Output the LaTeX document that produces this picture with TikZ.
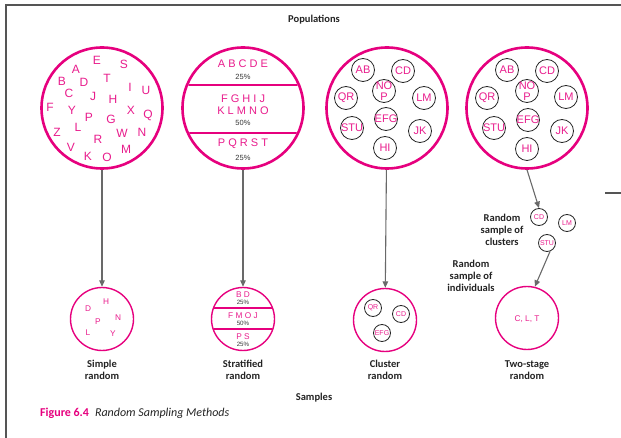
\documentclass[tikz,border=0pt]{standalone}
\usepackage{fontspec}
\setmainfont{Liberation Sans}
\newfontfamily\labfont{Carlito}
\usetikzlibrary{arrows.meta}

\definecolor{mag}{RGB}{230,0,126}
\definecolor{magtext}{RGB}{232,28,140}
\definecolor{arrowgray}{RGB}{105,105,105}
\definecolor{framegray}{RGB}{85,85,85}
\definecolor{pctgray}{RGB}{55,55,55}
\definecolor{labgray}{RGB}{35,35,35}

\tikzset{
  pop/.style={circle, draw=mag, line width=2.6pt, minimum size=121pt, inner sep=0pt},
  samp/.style={circle, draw=mag, line width=1.4pt, minimum size=63pt, inner sep=0pt},
  clu/.style={circle, draw=black!85, line width=0.8pt, minimum size=23pt, inner sep=0pt,
    label={[letterM]center:#1}},
  cluS/.style={circle, draw=black!85, line width=0.8pt, minimum size=17pt, inner sep=0pt,
    label={[letterXS]center:#1}},
  letterL/.style={text=magtext, font=\fontsize{12}{12}\selectfont, inner sep=0pt},
  letterM/.style={text=magtext, font=\fontsize{11}{11.5}\selectfont, inner sep=0pt, align=center},
  letterS/.style={text=magtext, font=\fontsize{8.3}{9}\selectfont, inner sep=0pt},
  letterXS/.style={text=magtext, font=\fontsize{7}{7}\selectfont, inner sep=0pt},
  pct/.style={text=pctgray, font=\fontsize{7.5}{8}\selectfont, inner sep=0pt},
  pctS/.style={text=pctgray, font=\fontsize{6.2}{6.2}\selectfont, inner sep=0pt},
  strat/.style={draw=mag, line width=1.5pt},
  stratS/.style={draw=mag, line width=1.2pt},
  flow/.style={draw=arrowgray, line width=1.1pt, -{Triangle[length=6.5pt,width=5.5pt]}},
  lab/.style={font=\labfont\bfseries\fontsize{10.5}{12.3}\selectfont, text=labgray, align=center, inner sep=0pt},
  frame/.style={draw=framegray, line width=1.4pt},
}

\begin{document}
\begin{tikzpicture}[x=1pt, y=-1pt]
\useasboundingbox (0,0) rectangle (621,438);

% page frame
\coordinate (fTL) at (6,5);
\coordinate (fTR) at (621,5);
\coordinate (fBL) at (6,438);
\draw[frame] (fBL) -- (fTL) -- (fTR);
\coordinate (tickA) at (605,193);
\coordinate (tickB) at (621,193);
\draw[draw=framegray, line width=1.2pt] (tickA) -- (tickB);

% headings
\node[lab] (hPop) at (314,20) {Populations};
\node[lab] (hSmp) at (314,398) {Samples};
\node[anchor=west, inner sep=0pt, font=\labfont\fontsize{12}{14}\selectfont] (caption) at (40,413)
  {\textcolor{mag}{\bfseries Figure 6.4}\hspace{0.5em}\textcolor{labgray}{\itshape Random Sampling Methods}};

% ---------- simple random ----------
\node[pop] (simplePop) at (102,108) {};
\foreach \ch/\x/\y in {E/97/60, S/124/64, A/76/69, T/107/78, B/62/81, D/84/82, I/130/87,
  U/146/90, C/69/93, J/93/96, H/113/99, F/50/107, Y/72/110, X/131/110, Q/148/115,
  P/89/117, G/111/119, L/78/127, Z/57/132, W/122/133, N/142/132, R/98/139, V/71/147,
  M/126/149, K/88/156, O/107/157}
  \node[letterL] (s\ch) at (\x,\y) {\ch};

\node[samp] (simpleSmp) at (102,319) {};
\foreach \ch/\x/\y in {D/88/309, H/106/302, P/98/322, N/118/318, L/88/333, Y/113/334}
  \node[letterS] (ss\ch) at (\x,\y) {\ch};
\draw[flow] (simplePop) -- (simpleSmp);
\node[lab] (simpleLab) at (102,370) {Simple\\random};

% ---------- stratified random ----------
\begin{scope}
  \clip (243,108) circle (59);
  \draw[strat] (180,85) -- (306,85);
  \draw[strat] (180,133) -- (306,133);
\end{scope}
\node[pop] (stratPop) at (243,108) {};
\node[letterM] (st1) at (243,64) {A B C D E};
\node[pct] (sp1) at (243,77) {25\%};
\node[letterM] (st2) at (243,99) {F G H I J};
\node[letterM] (st3) at (243,111) {K L M N O};
\node[pct] (sp2) at (243,123) {50\%};
\node[letterM] (st4) at (243,144) {P Q R S T};
\node[pct] (sp3) at (243,158) {25\%};

\begin{scope}
  \clip (243,319) circle (31);
  \draw[stratS] (205,308) -- (281,308);
  \draw[stratS] (205,329) -- (281,329);
\end{scope}
\node[samp] (stratSmp) at (243,319) {};
\node[letterS] (sst1) at (243,295) {B D};
\node[pctS] (ssp1) at (243,302) {25\%};
\node[letterS] (sst2) at (243,316) {F M O J};
\node[pctS] (ssp2) at (243,323) {50\%};
\node[letterS] (sst3) at (243,337) {P S};
\node[pctS] (ssp3) at (243,344) {25\%};
\draw[flow] (stratPop) -- (stratSmp);
\node[lab] (stratLab) at (243,370) {Stratified\\random};

% ---------- cluster random ----------
\node[pop] (clusPop) at (387,108) {};
\foreach \nm/\txt/\dx/\dy in {AB/AB/-24/-38, CD/CD/16/-37, NOP/{NO\\P}/-3/-17, QR/QR/-41/-10,
  LM/LM/37/-10, EFG/EFG/-1/11, STU/STU/-35/20, JK/JK/33/23, HI/HI/-2/40}
  \node[clu={\txt}] (c\nm) at (387+\dx,108+\dy) {};

\node[samp] (clusSmp) at (385,320) {};
\node[cluS=QR] (csQR) at (373,308) {};
\node[cluS=CD] (csCD) at (401,314) {};
\node[cluS=EFG] (csEFG) at (382,333) {};
\draw[flow] (clusPop) -- (clusSmp);
\node[lab] (clusLab) at (385,370) {Cluster\\random};

% ---------- two-stage random ----------
\node[pop] (twoPop) at (527,108) {};
\foreach \nm/\txt/\dx/\dy in {AB/AB/-20/-38, CD/CD/20/-37, NOP/{NO\\P}/0/-17, QR/QR/-40/-10,
  LM/LM/39/-11, EFG/EFG/1/12, STU/STU/-33/20, JK/JK/35/23, HI/HI/0/41}
  \node[clu={\txt}] (t\nm) at (527+\dx,108+\dy) {};

\node[cluS=CD] (tsCD) at (539,217) {};
\node[cluS=LM] (tsLM) at (567,223) {};
\node[cluS=STU] (tsSTU) at (547,243) {};
\node[lab] (clusterSampleLab) at (502,230) {Random\\sample of\\clusters};
\node[lab] (indivSampleLab) at (471,276) {Random\\sample of\\individuals};

\node[samp] (twoSmp) at (527,318) {};
\node[letterS] (twoTxt) at (527,319) {C, L, T};
\draw[flow] (twoPop.south) -- (tsCD.north);
\draw[flow] (tsSTU.-70) -- (twoSmp.76);
\node[lab] (twoLab) at (527,370) {Two-stage\\random};
\end{tikzpicture}
\end{document}
